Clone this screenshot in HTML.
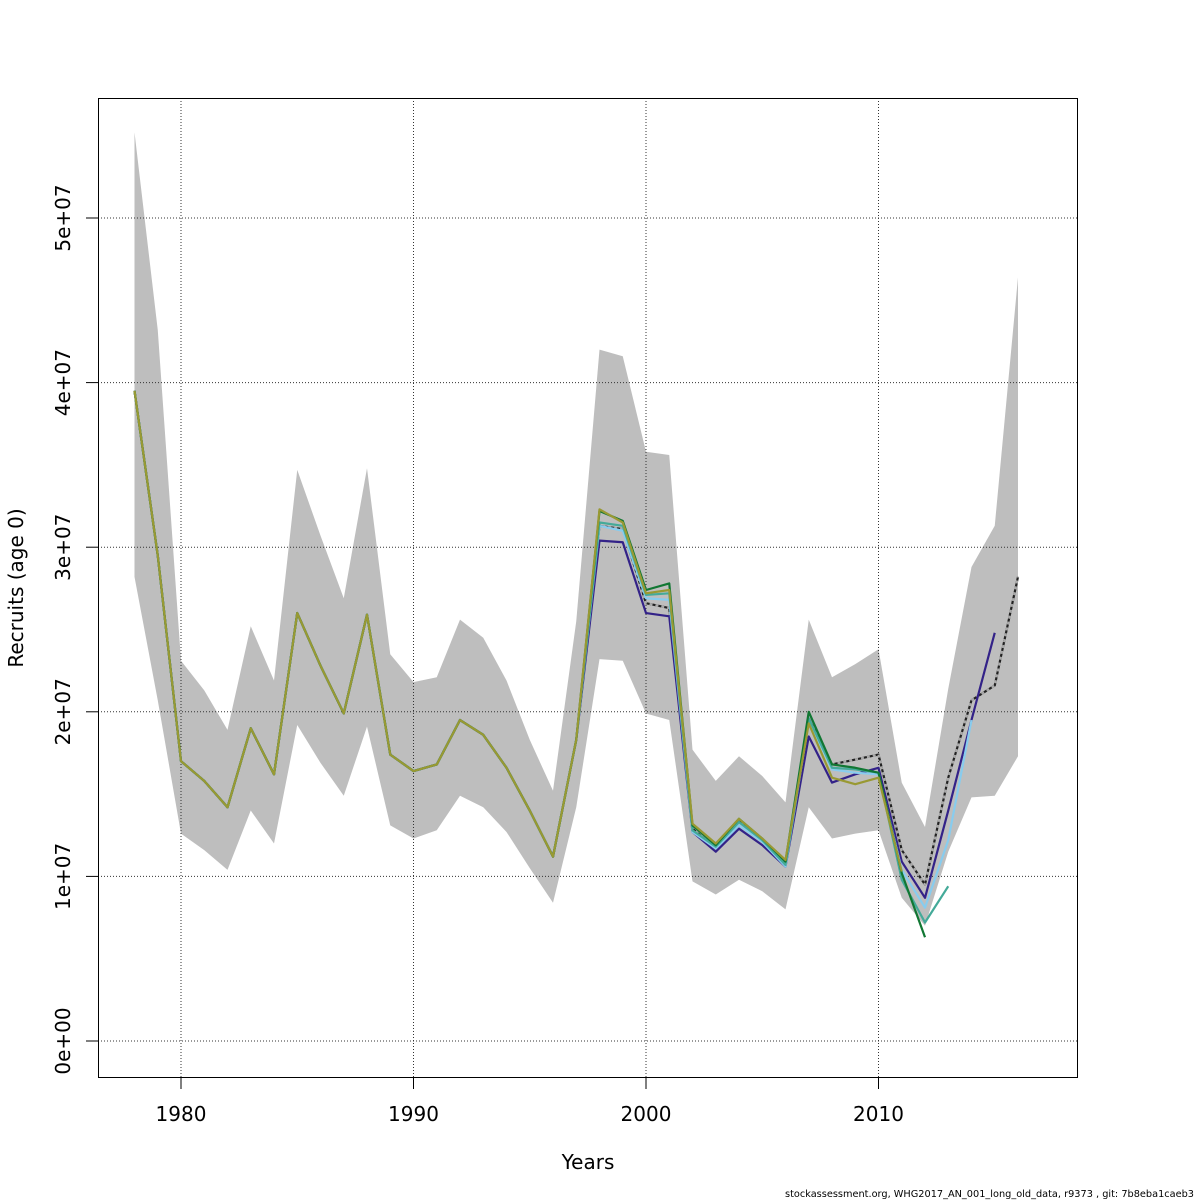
<!DOCTYPE html>
<html><head><meta charset="utf-8"><style>
body{margin:0;background:#fff}
svg{display:block;font-family:"DejaVu Sans","Liberation Sans",sans-serif}
</style></head><body>
<svg id="chart" width="1200" height="1200" viewBox="0 0 1200 1200"></svg>
<script>
const years=[];for(let y=1978;y<=2016;y++)years.push(y);
const upper=[55.2,43.2,23.1,21.3,18.9,25.2,21.9,34.7,30.7,26.9,34.8,23.5,21.8,22.1,25.6,24.5,21.9,18.3,15.2,25.5,42.0,41.6,35.8,35.6,17.7,15.8,17.3,16.1,14.5,25.6,22.1,22.9,23.8,15.7,13.0,21.4,28.8,31.3,46.4];
const lower=[28.2,20.7,12.6,11.6,10.4,14.0,12.0,19.2,16.9,14.9,19.1,13.1,12.3,12.8,14.9,14.2,12.7,10.5,8.4,14.2,23.2,23.1,19.9,19.5,9.7,8.9,9.8,9.1,8.0,14.2,12.3,12.6,12.8,8.7,7.0,11.5,14.8,14.9,17.3];
const common=[39.5,29.5,17.0,15.8,14.2,19.0,16.2,26.0,22.8,19.9,25.9,17.4,16.4,16.8,19.5,18.6,16.6,14.0,11.2,18.3];
const base=[31.3,31.1,26.6,26.3,12.9,11.7,13.4,12.2,10.8,19.6,16.8,17.1,17.4,11.6,9.5,16.0,20.7,21.6,28.2];
const retro2015=[30.4,30.3,26.0,25.8,12.7,11.5,12.9,11.9,10.6,18.5,15.7,16.2,16.6,10.9,8.7,14.0,19.5,24.8];
const retro2014=[31.3,31.0,26.9,26.8,12.7,11.7,13.1,12.1,10.6,19.5,16.5,16.3,16.2,10.4,8.1,12.2,19.5];
const retro2013=[31.5,31.3,27.1,27.2,12.8,11.8,13.3,12.2,10.7,19.6,16.6,16.5,16.3,9.8,7.2,9.4];
const retro2012=[32.2,31.6,27.4,27.8,13.1,11.9,13.5,12.3,10.9,20.0,16.8,16.6,16.3,10.2,6.3];
const retro2011=[32.3,31.5,27.2,27.4,13.2,12.0,13.5,12.3,11.0,19.3,16.0,15.6,16.0,10.3];
const xTicks=[1980,1990,2000,2010];
const yTicks=[0,10,20,30,40,50];
const yTickLabels=["0e+00","1e+07","2e+07","3e+07","4e+07","5e+07"];

const NS="http://www.w3.org/2000/svg";
const svg=document.getElementById('chart');
const X=y=>181+(y-1980)*23.25;
const Y=v=>1041-v*16.46;
function el(t,a,p){const e=document.createElementNS(NS,t);for(const k in a)e.setAttribute(k,a[k]);(p||svg).appendChild(e);return e;}

let pts=years.map((y,i)=>X(y)+','+Y(upper[i]));
for(let i=years.length-1;i>=0;i--)pts.push(X(years[i])+','+Y(lower[i]));
const band=el('polygon',{points:pts.join(' '),fill:'#bebebe'});



xTicks.forEach(t=>{const g=el('line',{x1:X(t),x2:X(t),y1:98,y2:1077,stroke:'#333','stroke-width':1,'stroke-dasharray':'1,2'});

});
yTicks.forEach(t=>{const g=el('line',{x1:98,x2:1077,y1:Y(t),y2:Y(t),stroke:'#333','stroke-width':1,'stroke-dasharray':'1,2'});

});

function series(vals,startYear,color,name,dash){
  const p=vals.map((v,i)=>X(startYear+i)+','+Y(v)).join(' ');
  const l=el('polyline',{points:p,fill:'none',stroke:color,'stroke-width':2.2,'stroke-linejoin':'round'});
  if(dash)l.setAttribute('stroke-dasharray',dash);
  
  
  return l;
}
const baseFull=common.concat(base);
series(baseFull,1978,'#222','base-run-line');
series(baseFull,1978,'#aaa','base-run-dash','3,3');
series(common.concat(retro2015),1978,'#332288','retro-2015-line');
series(common.concat(retro2014),1978,'#88ccee','retro-2014-line');
series(common.concat(retro2013),1978,'#44aa99','retro-2013-line');
series(common.concat(retro2012),1978,'#117733','retro-2012-line');
series(common.concat(retro2011),1978,'#999933','retro-2011-line');

const fr=el('rect',{x:98.5,y:98.5,width:979,height:979,fill:'none',stroke:'#000','stroke-width':1});



xTicks.forEach(t=>{el('line',{x1:X(t),x2:X(t),y1:1077,y2:1089,stroke:'#000'});
const tx=el('text',{x:X(t),y:1121,'text-anchor':'middle','font-size':20});tx.textContent=t;

});
yTicks.forEach((t,i)=>{el('line',{x1:86,x2:98,y1:Y(t),y2:Y(t),stroke:'#000'});
const tx=el('text',{x:70,y:Y(t),'text-anchor':'middle','font-size':20,transform:`rotate(-90 70 ${Y(t)})`});tx.textContent=yTickLabels[i];

});

const xt=el('text',{x:588,y:1169,'text-anchor':'middle','font-size':20});xt.textContent='Years';


const yt=el('text',{x:23,y:588,'text-anchor':'middle','font-size':20,transform:'rotate(-90 23 588)'});yt.textContent='Recruits (age 0)';


const ft=el('text',{x:785,y:1197,'font-size':10,textLength:409,lengthAdjust:'spacingAndGlyphs'});ft.textContent='stockassessment.org, WHG2017_AN_001_long_old_data, r9373 , git: 7b8eba1caeb3';


</script>
</body></html>
